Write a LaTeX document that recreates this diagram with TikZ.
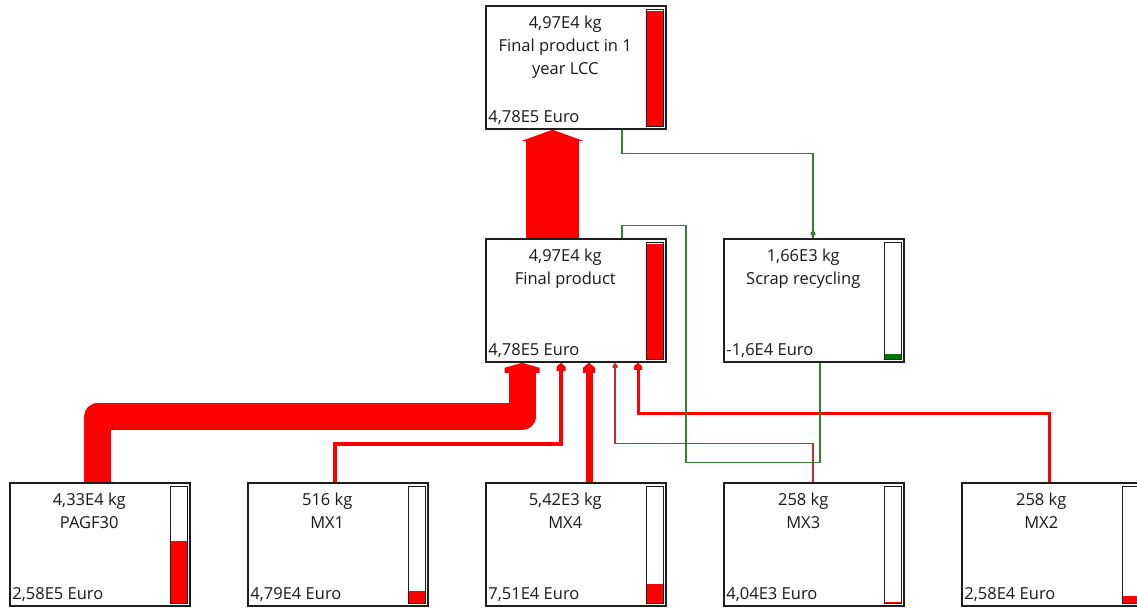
\documentclass[tikz,border=0pt]{standalone}
\usepackage{fontspec}
\setmainfont{Open Sans}
\usetikzlibrary{calc}

\definecolor{flowred}{RGB}{255,0,0}
\definecolor{thinred}{RGB}{195,45,45}
\definecolor{flowgreen}{RGB}{52,128,52}
\definecolor{bargreen}{RGB}{0,120,0}
\definecolor{frame}{RGB}{30,30,30}

\tikzset{
  procbox/.style={draw=frame, line width=1.5pt, fill=white, rectangle,
    minimum width=180pt, minimum height=123pt, inner sep=0pt},
  boxtext/.style={font=\fontsize{16.5}{23}\selectfont, align=center, inner sep=0pt,
    text=black!90},
  costtext/.style={font=\fontsize{16.5}{23}\selectfont, inner sep=0pt, text=black!90},
  barframe/.style={draw=frame, line width=1.2pt},
  redflow/.style={draw=flowred, line join=miter},
  greenflow/.style={draw=flowgreen, line width=1.3pt},
}

% process box: name, left, top, centred text, cost, bar fill height, bar colour
\newcommand\flowbox[7]{%
  \node[procbox] (#1) at (#2+90,#3+61.5) {};
  \node[boxtext, anchor=north] (#1-t) at ($(#1.north west)+(80,11)$) {#4};
  \node[costtext, anchor=base west] (#1-c) at ($(#1.south west)+(3,-7)$) {#5};
  \fill[#7] ($(#1.south east)+(-20,-3-#6)$) rectangle ($(#1.south east)+(-3,-3)$);
  \draw[barframe] ($(#1.north east)+(-20,4)$) rectangle ($(#1.south east)+(-3,-3)$);
}

% house-shaped arrow head: apex coordinate, half width, height, roof height, colour
\newcommand\househead[5]{%
  \fill[#5] ($(#1)+(-#2,#3)$) -- ($(#1)+(-#2,#4)$) -- (#1) -- ($(#1)+(#2,#4)$)
    -- ($(#1)+(#2,#3)$) -- cycle;
}

\begin{document}
\begin{tikzpicture}[x=1pt, y=-1pt]
\fill[white] (0,0) rectangle (1137,608);
\useasboundingbox (0,0) rectangle (1137,608);

% processes
\flowbox{top}{486}{6}{4,97E4 kg\\Final product in 1\\year LCC}{4,78E5 Euro}{116}{flowred}
\flowbox{fp}{486}{239}{4,97E4 kg\\Final product}{4,78E5 Euro}{116}{flowred}
\flowbox{scrap}{724}{239}{1,66E3 kg\\Scrap recycling}{-1,6E4 Euro}{6}{bargreen}
\flowbox{pagf}{10}{483}{4,33E4 kg\\PAGF30}{2,58E5 Euro}{63}{flowred}
\flowbox{mx1}{248}{483}{516 kg\\MX1}{4,79E4 Euro}{13}{flowred}
\flowbox{mx4}{486}{483}{5,42E3 kg\\MX4}{7,51E4 Euro}{20}{flowred}
\flowbox{mx3}{724}{483}{258 kg\\MX3}{4,04E3 Euro}{2}{flowred}
\flowbox{mx2}{962}{483}{258 kg\\MX2}{2,58E4 Euro}{8}{flowred}

% inlets on the final product
\coordinate (inP) at ($(fp.south)+(-54,0)$);
\coordinate (inA) at ($(fp.south)+(-15,0)$);
\coordinate (inB) at ($(fp.south)+(13,0)$);
\coordinate (inC) at ($(fp.south)+(39,0)$);
\coordinate (inD) at ($(fp.south)+(62,0)$);
\coordinate (inTop) at ($(top.south)+(-23.5,0)$);
\coordinate (inScrap) at ($(scrap.north)+(-1,-8)$);

% final product -> final product in 1 year LCC
\fill[flowred] ($(fp.north)+(-50,0)$) rectangle ($(inTop)+(26.5,11)$);
\fill[flowred] ($(inTop)+(-30.5,11)$) -- (inTop) -- ($(inTop)+(30.5,11)$) -- cycle;

% PAGF30 -> final product
\draw[redflow, line width=27pt, line join=round]
  ($(pagf.north)+(-2.5,0)$) |- ($(inP)+(0,54)$) -- ($(inP)+(0,9)$);
\househead{inP}{17.5}{10}{5}{flowred}

% MX1 -> final product
\draw[redflow, line width=4pt] ($(mx1.north)+(-3,0)$) -- ++(0,-38) -| ($(inA)+(0,6)$);
\househead{inA}{4.5}{8}{4}{flowred}

% MX4 -> final product
\draw[redflow, line width=7pt] ($(mx4.north)+(13,0)$) -- ($(inB)+(0,8)$);
\househead{inB}{6}{10}{5}{flowred}

% MX3 -> final product
\draw[draw=thinred, line width=1.5pt] ($(mx3.north)+(-1,0)$) -- ++(0,-39) -| ($(inC)+(0,3)$);
\househead{inC}{2.5}{5}{3}{thinred}

% MX2 -> final product
\draw[redflow, line width=3pt] ($(mx2.north)+(-3,0)$) -- ++(0,-69) -| ($(inD)+(0,5)$);
\househead{inD}{4}{7}{3.5}{flowred}

% final product in 1 year LCC -> scrap recycling
\draw[greenflow] ($(top.south)+(46,0)$) -- ++(0,24) -| ($(scrap.north)+(-1,0)$);
\househead{inScrap}{2.3}{5}{2.5}{flowgreen}

% scrap recycling -> final product
\draw[greenflow] ($(scrap.south)+(6,0)$) -- ++(0,100) -| ($(fp.north)+(110,-13)$)
  -| ($(fp.north)+(46,0)$);
\end{tikzpicture}
\end{document}
